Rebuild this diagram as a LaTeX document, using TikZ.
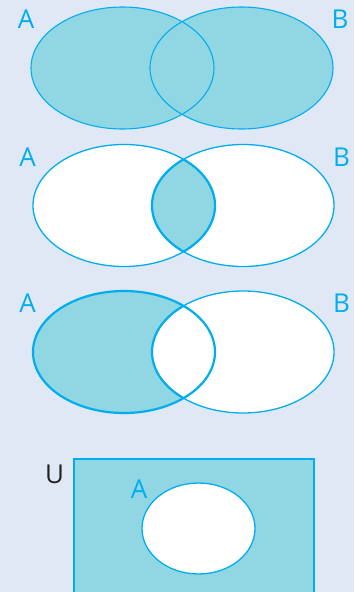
\documentclass[tikz,border=0pt]{standalone}
\usepackage{fontspec}
\setmainfont{Open Sans}
\usetikzlibrary{positioning}
\definecolor{bgblue}{HTML}{E1E8F5}
\definecolor{setfill}{HTML}{91D6E3}
\definecolor{setline}{HTML}{00AEEF}
\definecolor{ulabel}{HTML}{231F20}

\begin{document}
\begin{tikzpicture}[x=1pt, y=-1pt,
      lab/.style={font=\fontsize{26}{26}\selectfont, text=setline, inner sep=0pt},
      rim/.style={draw=setline, line width=1.3pt},
      rimthick/.style={draw=setline, line width=2.2pt},
    ]

    % ---- Page frame ----
    \useasboundingbox (0,0) rectangle (354,592);
    \fill[bgblue] (0,0) rectangle (354,592);
    \clip (0,0) rectangle (354,592);

    % ---- Set labels A / B (three two-set diagrams) ----
    \foreach \k/\ya/\xa/\xb in {1/19/26/340, 2/157/27.5/341.5, 3/303.5/27.5/341.5}{
        \node[lab] (A\k) at (\xa, \ya) {A};
        \node[lab] (B\k) at (\xb, \ya) {B};
      }

    % ---- Diagram 1: A union B ----
    \fill[setfill] (122.5,68) ellipse [x radius=91.5, y radius=61];
    \fill[setfill] (241.5,68) ellipse [x radius=91.5, y radius=61];
    \draw[rim, line width=1.1pt] (122.5,68) ellipse [x radius=91.5, y radius=61];
    \draw[rim, line width=1.1pt] (241.5,68) ellipse [x radius=91.5, y radius=61];

    % ---- Diagram 2: A intersect B ----
    \fill[white] (124,205.5) ellipse [x radius=91, y radius=61];
    \fill[white] (243,205.5) ellipse [x radius=91, y radius=61];
    \begin{scope}
      \clip (124,205.5) ellipse [x radius=91, y radius=61];
      \fill[setfill] (243,205.5) ellipse [x radius=91, y radius=61];
      \draw[rimthick] (243,205.5) ellipse [x radius=91, y radius=61];
    \end{scope}
    \begin{scope}
      \clip (243,205.5) ellipse [x radius=91, y radius=61];
      \draw[rimthick] (124,205.5) ellipse [x radius=91, y radius=61];
    \end{scope}
    \draw[rim] (124,205.5) ellipse [x radius=91, y radius=61];
    \draw[rim] (243,205.5) ellipse [x radius=91, y radius=61];

    % ---- Diagram 3: A minus B ----
    \fill[setfill] (124,352) ellipse [x radius=91, y radius=61];
    \fill[white] (243,352) ellipse [x radius=91, y radius=61];
    \begin{scope}
      \clip (124,352) ellipse [x radius=91, y radius=61];
      \draw[rimthick] (243,352) ellipse [x radius=91, y radius=61];
    \end{scope}
    \draw[rimthick] (124,352) ellipse [x radius=91, y radius=61];
    \draw[rim] (243,352) ellipse [x radius=91, y radius=61];

    % ---- Diagram 4: complement of A in U ----
    \draw[setline, fill=setfill, line width=1.3pt] (74,459) rectangle (314,600);
    \draw[rim, fill=white] (198.5,528.5) ellipse [x radius=56.5, y radius=45.5];
    \node[lab, text=ulabel] (U) at (54.5,474.5) {U};
    \node[lab] (A4) at (139,489.5) {A};

  \end{tikzpicture}
\end{document}
